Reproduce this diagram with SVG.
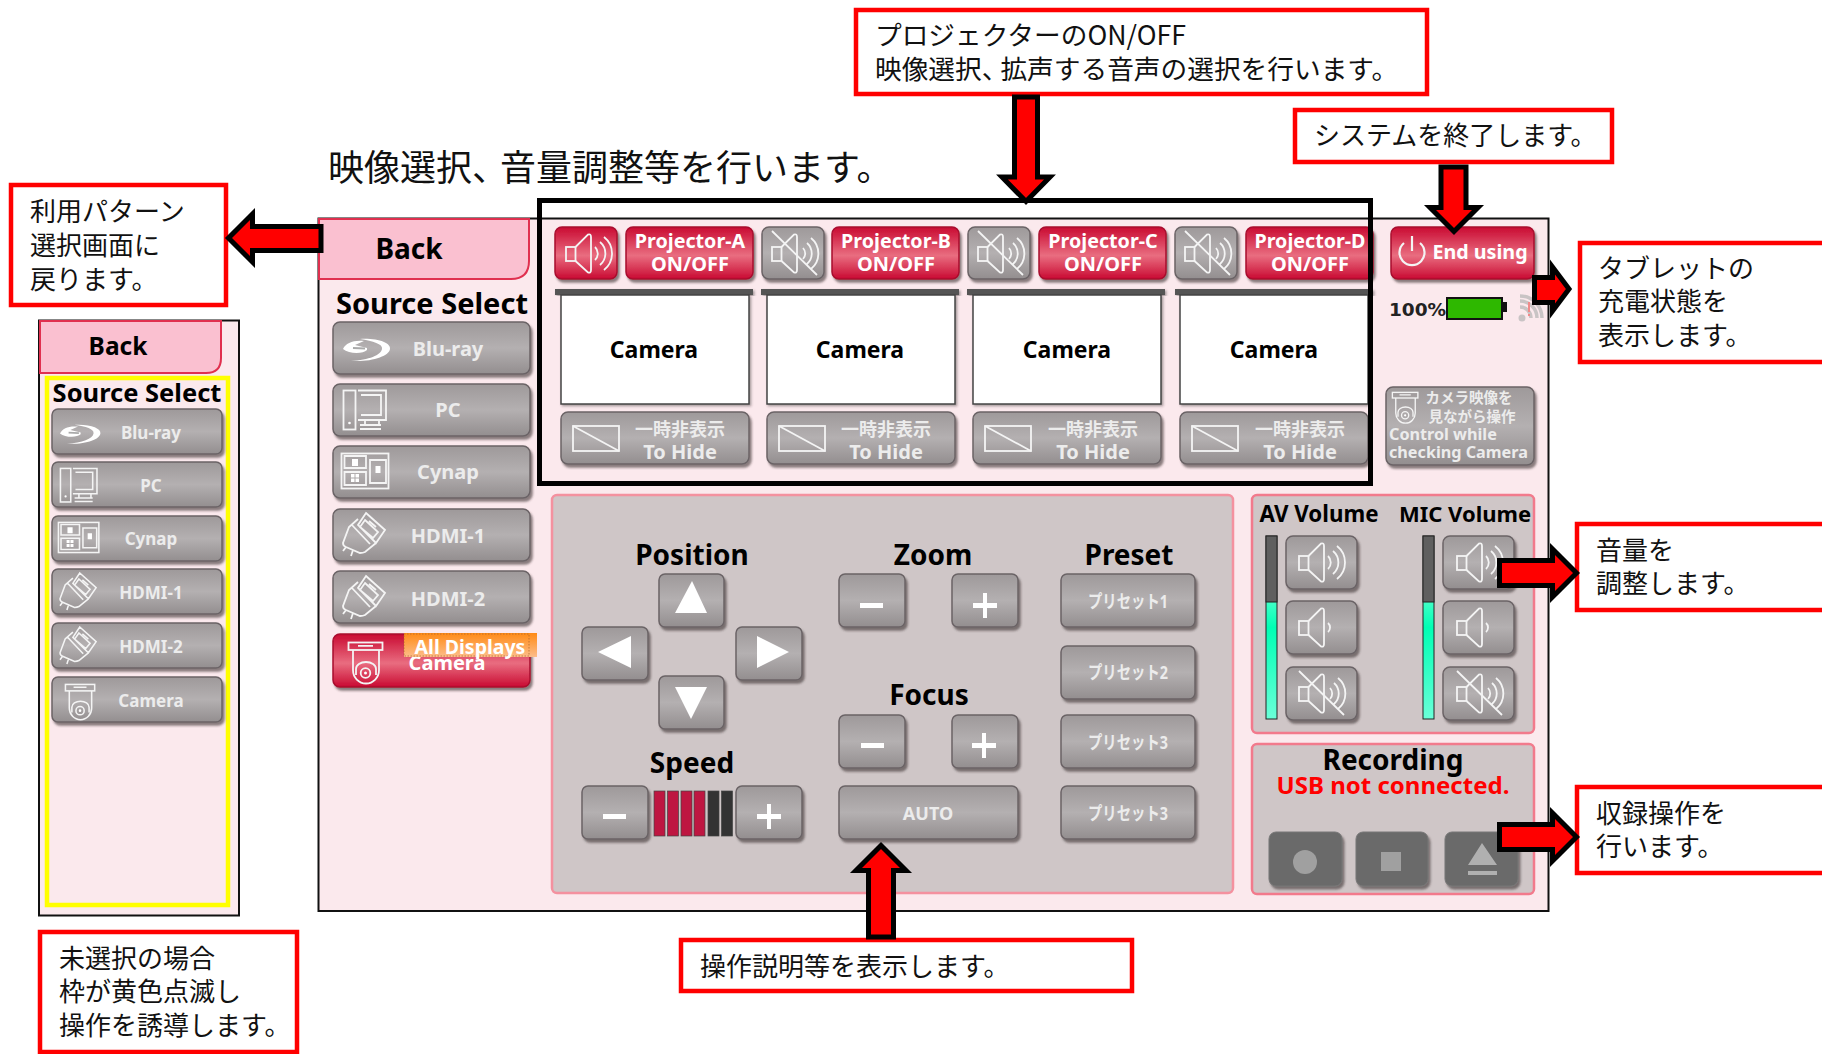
<svg xmlns="http://www.w3.org/2000/svg" width="1822" height="1054" viewBox="0 0 1822 1054">
<style>
text{font-family:"Noto Sans","Noto Sans CJK JP",sans-serif;font-weight:700}
.jp{font-family:"Noto Sans CJK JP",sans-serif;font-weight:400;fill:#111;font-size:26px}
.gb{fill:url(#gray);stroke:#6b6366;stroke-width:1.5;filter:url(#sh)}
.rb{fill:url(#red);stroke:#a80c2e;stroke-width:1.5;filter:url(#sh)}
.dk{fill:#6a6a6a;stroke:#777;stroke-width:1;filter:url(#sh)}
.wt{fill:#ececec;text-anchor:middle}
.wh{fill:#fff;text-anchor:middle}
.bk{fill:#000;text-anchor:middle}
.ic{fill:none;stroke:#f4f4f4;stroke-width:1.8}
.sel{fill:#fff}
.cb{fill:#fff;stroke:#f00;stroke-width:4.5}
.arr{fill:#f00;stroke:#000;stroke-width:5;stroke-linejoin:miter;stroke-miterlimit:8}
.pn{fill:#cfc6c7;stroke:#f27a8c;stroke-width:2.5}
.scr{fill:#fff;stroke:#444;stroke-width:1.5;filter:url(#sh2)}
.bar{fill:#555;filter:url(#sh2)}
.s17{font-size:17px}.s18{font-size:18px}.s20{font-size:20px}.s28{font-size:28px}
.gl{fill:#fff}
</style>
<defs>
<linearGradient id="gray" x1="0" y1="0" x2="0" y2="1"><stop offset="0" stop-color="#9e999a"/><stop offset=".5" stop-color="#b4b0b1"/><stop offset="1" stop-color="#938e8f"/></linearGradient>
<linearGradient id="red" x1="0" y1="0" x2="0" y2="1"><stop offset="0" stop-color="#c90a32"/><stop offset=".55" stop-color="#e96d80"/><stop offset="1" stop-color="#c90a32"/></linearGradient>
<linearGradient id="org" x1="0" y1="0" x2="0" y2="1"><stop offset="0" stop-color="#ff8a14"/><stop offset="1" stop-color="#fdbd8a"/></linearGradient>
<linearGradient id="mtr" x1="0" y1="0" x2="0" y2="1"><stop offset="0" stop-color="#e6fff7"/><stop offset=".5" stop-color="#00ffb4"/><stop offset="1" stop-color="#6affd8"/></linearGradient>
<filter id="sh" x="-10%" y="-10%" width="125%" height="130%"><feDropShadow dx="2" dy="3" stdDeviation="1.2" flood-color="#3c3033" flood-opacity=".6"/></filter>
<filter id="sh2" x="-5%" y="-5%" width="110%" height="115%"><feDropShadow dx="1.5" dy="1.5" stdDeviation="1.2" flood-color="#3c3033" flood-opacity=".45"/></filter>
<clipPath id="camclip"><rect x="333" y="657" width="210" height="40"/></clipPath>
<g id="spk"><rect x="0" y="13" width="9.500" height="14" class="ic"/><path class="ic" d="M9.500,13 L22,0.500 Q25,-0.500 25,3 V36 Q25,39.500 22,38.500 L9.500,27"/></g>
<g id="spk3"><use href="#spk"/><path class="ic" d="M29,13 A9,9 0 0 1 29,26 M34,8 A15,15 0 0 1 34,31 M38,3 A21,21 0 0 1 38,36"/></g>
<g id="spk1"><use href="#spk"/><path class="ic" d="M29,15 A6,6 0 0 1 29,24"/></g>
<g id="spkm"><use href="#spk"/><path class="ic" d="M31,14 A8,8 0 0 1 31,25 M35,9 A14,14 0 0 1 35,30 M39,4 A20,20 0 0 1 39,35 M0,-3 L45,41"/></g>
<g id="ibd"><path class="sel" d="M17,1 C35,0 48,5 47,11 C46,18 30,24 8,23 C26,22 38,17 39,11 C40,6 30,3 17,1 Z M0,11 C3,5 10,2 21,3 L12,7 L24,10 V12 C20,16 6,16 0,11 Z"/><path d="M10,10 L22,10.500" stroke="#aaa" stroke-width="2"/></g>
<g id="ipc"><rect class="ic" x="0.500" y="0.500" width="12" height="39"/><circle class="sel" cx="6.500" cy="33" r="1.300"/><path class="ic" d="M15,0.500 H43 V30 H15 M18,5 H38 V25 H18 M22,30 V34 M36,30 V34 M17,35 H38 M17,39 H38"/></g>
<g id="icy"><rect class="ic" x="0.500" y="0.500" width="47" height="35"/><path class="ic" d="M3.500,3 H25 V15 H3.500 Z M3.500,19 H25 V32 H3.500 Z M29,7 H45 V30 H29 Z"/><path class="sel" d="M11,6 h6 v7 h-6z M10,21 h3.500 v3.500 h-3.500z M14.500,21 h3.500 v3.500 h-3.500z M10,25.500 h3.500 v3.500 h-3.500z M14.500,25.500 h3.500 v3.500 h-3.500z M34.500,13 h5 v7 h-5z"/></g>
<g id="ihd"><path class="ic" d="M23,0 L42,17 L33,30 L15,12 Z M22,7 L35,19 L30,25 L17,14 Z M26,8 L33,14 M15,6 L6,14 L0,30 Q0,33 3,34 L17,40 Q20,40 22,39 L33,30 M8,11 L27,31 M3,34 L0,38 M10,37 L8,43"/></g>
<g id="icm"><rect class="ic" x="0.500" y="0.500" width="34" height="7.500"/><path class="ic" d="M5,8 V28 A13,13.500 0 0 0 31,28 V8 M8,33 V27 A10,7 0 0 1 28,27 V33 M10,3.800 H25"/><circle class="ic" cx="17.500" cy="31" r="4.800"/><circle class="sel" cx="17.500" cy="31" r="1.500"/></g>
<g id="hide"><rect class="ic" x="0" y="0" width="46" height="25"/><path class="ic" d="M0,0 L46,25"/></g>
</defs>
<rect width="1822" height="1054" fill="#fff"/>

<g id="title"><text class="jp" x="328" y="181" style="font-size:36px">映像選択<tspan>、</tspan><tspan dx="-8">音量調整等を行います。</tspan></text></g>

<g id="main-panel"><rect x="318.500" y="218.500" width="1230" height="692.500" fill="#fbe9ed" stroke="#111" stroke-width="2"/></g>

<g id="main-back"><path d="M319,219 H529 V261 Q529,279 511,279 H319 Z" fill="#fac0d0" stroke="#e0304f" stroke-width="2"/><text class="bk s28" x="409" y="259">Back</text></g>

<g id="main-source"><text class="bk" x="432" y="314" style="font-size:29px">Source Select</text>
<g id="m-bluray"><rect class="gb" x="333" y="322" width="197" height="52" rx="7"/><use href="#ibd" x="343" y="338"/><text class="wt s20" x="448" y="356">Blu-ray</text></g>
<g id="m-pc"><rect class="gb" x="333" y="384" width="197" height="52" rx="7"/><use href="#ipc" x="343" y="390"/><text class="wt s20" x="448" y="417">PC</text></g>
<g id="m-cynap"><rect class="gb" x="333" y="446" width="197" height="52" rx="7"/><use href="#icy" x="341" y="453"/><text class="wt s20" x="448" y="479">Cynap</text></g>
<g id="m-hdmi1"><rect class="gb" x="333" y="509" width="197" height="52" rx="7"/><use href="#ihd" x="343" y="513"/><text class="wt s20" x="448" y="543">HDMI-1</text></g>
<g id="m-hdmi2"><rect class="gb" x="333" y="571" width="197" height="52" rx="7"/><use href="#ihd" x="343" y="576"/><text class="wt s20" x="448" y="606">HDMI-2</text></g>
<g id="m-camera"><rect class="rb" x="333" y="634" width="197" height="53" rx="7"/><use href="#icm" x="348" y="642"/><text class="wh s20" x="447" y="670" clip-path="url(#camclip)">Camera</text>
<rect x="404" y="633" width="133" height="24" fill="url(#org)"/><rect x="404" y="634" width="125" height="22" fill="none" stroke="#a8642c" stroke-width=".7" stroke-dasharray="1.500 1.500"/><text class="wh" x="470" y="654" style="font-size:19.500px">All Displays</text></g>
</g>

<g id="sub-panel"><rect x="39" y="320.500" width="200" height="595" fill="#fbe9ed" stroke="#111" stroke-width="2"/>
<path d="M40,321 H221 V358 Q221,373 206,373 H40 Z" fill="#fac0d0" stroke="#e0304f" stroke-width="2"/><text class="bk" x="118" y="355" style="font-size:24.500px">Back</text>
<rect x="47" y="378" width="181" height="527" fill="none" stroke="#ff0" stroke-width="4.500"/>
<text class="bk" x="137" y="402" style="font-size:25.500px">Source Select</text>
<g id="s-bluray"><rect class="gb" x="52" y="409" width="170" height="45" rx="6"/><use href="#ibd" transform="translate(60 424) scale(.86)"/><text class="wt s17" x="151" y="439">Blu-ray</text></g>
<g id="s-pc"><rect class="gb" x="52" y="462" width="170" height="45" rx="6"/><use href="#ipc" transform="translate(60 468) scale(.86)"/><text class="wt s17" x="151" y="492">PC</text></g>
<g id="s-cynap"><rect class="gb" x="52" y="516" width="170" height="45" rx="6"/><use href="#icy" transform="translate(58 522) scale(.86)"/><text class="wt s17" x="151" y="545">Cynap</text></g>
<g id="s-hdmi1"><rect class="gb" x="52" y="569" width="170" height="45" rx="6"/><use href="#ihd" transform="translate(60 573) scale(.86)"/><text class="wt s17" x="151" y="599">HDMI-1</text></g>
<g id="s-hdmi2"><rect class="gb" x="52" y="623" width="170" height="45" rx="6"/><use href="#ihd" transform="translate(60 627) scale(.86)"/><text class="wt s17" x="151" y="653">HDMI-2</text></g>
<g id="s-camera"><rect class="gb" x="52" y="677" width="170" height="45" rx="6"/><use href="#icm" transform="translate(65 684) scale(.86)"/><text class="wt s17" x="151" y="707">Camera</text></g>
</g>

<g id="projector-a"><rect class="rb" x="555" y="227" width="62" height="52" rx="7"/><use href="#spk3" x="566" y="234"/><rect class="rb" x="626" y="227" width="127" height="52" rx="7"/><text class="wh" x="690" y="248" style="font-size:19.700px">Projector-A</text><text class="wh s20" x="690" y="271">ON/OFF</text>
<rect class="bar" x="555" y="289" width="198" height="6"/><rect class="scr" x="561" y="295" width="188" height="109"/><text class="bk" x="654" y="358" style="font-size:23px">Camera</text>
<rect class="gb" x="561" y="412" width="188" height="52" rx="7"/><use href="#hide" x="573" y="426"/><text class="wt s18" x="680" y="436">一時非表示</text><text class="wt s20" x="680" y="459">To Hide</text></g>

<g id="projector-b"><rect class="gb" x="762" y="227" width="62" height="52" rx="7"/><use href="#spkm" x="772" y="234"/><rect class="rb" x="832" y="227" width="127" height="52" rx="7"/><text class="wh" x="896" y="248" style="font-size:19.700px">Projector-B</text><text class="wh s20" x="896" y="271">ON/OFF</text>
<rect class="bar" x="761" y="289" width="198" height="6"/><rect class="scr" x="767" y="295" width="188" height="109"/><text class="bk" x="860" y="358" style="font-size:23px">Camera</text>
<rect class="gb" x="767" y="412" width="188" height="52" rx="7"/><use href="#hide" x="779" y="426"/><text class="wt s18" x="886" y="436">一時非表示</text><text class="wt s20" x="886" y="459">To Hide</text></g>

<g id="projector-c"><rect class="gb" x="968" y="227" width="62" height="52" rx="7"/><use href="#spkm" x="978" y="234"/><rect class="rb" x="1039" y="227" width="127" height="52" rx="7"/><text class="wh" x="1103" y="248" style="font-size:19.700px">Projector-C</text><text class="wh s20" x="1103" y="271">ON/OFF</text>
<rect class="bar" x="967" y="289" width="198" height="6"/><rect class="scr" x="973" y="295" width="188" height="109"/><text class="bk" x="1067" y="358" style="font-size:23px">Camera</text>
<rect class="gb" x="973" y="412" width="188" height="52" rx="7"/><use href="#hide" x="985" y="426"/><text class="wt s18" x="1093" y="436">一時非表示</text><text class="wt s20" x="1093" y="459">To Hide</text></g>

<g id="projector-d"><rect class="gb" x="1175" y="227" width="62" height="52" rx="7"/><use href="#spkm" x="1185" y="234"/><rect class="rb" x="1246" y="227" width="127" height="52" rx="7"/><text class="wh" x="1310" y="248" style="font-size:19.700px">Projector-D</text><text class="wh s20" x="1310" y="271">ON/OFF</text>
<rect class="bar" x="1175" y="289" width="198" height="6"/><rect class="scr" x="1180" y="295" width="188" height="109"/><text class="bk" x="1274" y="358" style="font-size:23px">Camera</text>
<rect class="gb" x="1180" y="412" width="188" height="52" rx="7"/><use href="#hide" x="1192" y="426"/><text class="wt s18" x="1300" y="436">一時非表示</text><text class="wt s20" x="1300" y="459">To Hide</text></g>

<g id="end-using"><rect class="rb" x="1391" y="227" width="143" height="52" rx="7"/><path d="M1404,243 A12.500,12.500 0 1 0 1420,243 M1412,236 V251" fill="none" stroke="#f4f4f4" stroke-width="2.200"/><text class="wh" x="1480" y="259" style="font-size:19.700px">End using</text></g>

<g id="battery"><text x="1389" y="316" fill="#222" style="font-family:'DejaVu Sans',sans-serif;font-size:18.500px">100%</text><rect x="1447" y="298" width="55" height="21" fill="#2eb800" stroke="#111" stroke-width="2"/><rect x="1503" y="302" width="4" height="10" fill="#111"/>
<g fill="none" stroke="#c9c4c5" stroke-width="3.500"><path d="M1520,307 A11,11 0 0 1 1531,318 M1520,301 A17,17 0 0 1 1537,318 M1520,296 A22,22 0 0 1 1542,318"/></g><circle cx="1522" cy="318" r="3.500" fill="#c9c4c5"/><rect x="1528" y="302" width="2" height="10" fill="#f08a8a"/><rect x="1528" y="314" width="2" height="2" fill="#f08a8a"/></g>

<g id="camera-control"><rect class="gb" x="1386" y="387" width="148" height="78" rx="7"/><use href="#icm" transform="translate(1392 392) scale(.75)"/><text class="wt" x="1469" y="403" style="font-size:14.500px">カメラ映像を</text><text class="wt" x="1472" y="422" style="font-size:14.500px">見ながら操作</text><text x="1389" y="440" fill="#ececec" style="font-size:16.200px">Control while</text><text x="1389" y="458" fill="#ececec" style="font-size:16.200px">checking Camera</text></g>

<g id="ptz-panel"><rect class="pn" x="552" y="495" width="681" height="398" rx="5" style="stroke:#f4919f"/>
<text class="bk s28" x="692" y="565">Position</text><text class="bk s28" x="933" y="565">Zoom</text><text class="bk s28" x="1129" y="565">Preset</text><text class="bk s28" x="929" y="705">Focus</text><text class="bk s28" x="692" y="773">Speed</text>
<g id="pos-up"><rect class="gb" x="659" y="574" width="65" height="53" rx="6"/><path class="gl" d="M692,581 L707,613 H675 Z"/></g>
<g id="pos-left"><rect class="gb" x="582" y="627" width="66" height="53" rx="6"/><path class="gl" d="M598,652 L631,636 V668 Z"/></g>
<g id="pos-right"><rect class="gb" x="736" y="627" width="66" height="53" rx="6"/><path class="gl" d="M789,652 L757,636 V668 Z"/></g>
<g id="pos-down"><rect class="gb" x="659" y="676" width="65" height="53" rx="6"/><path class="gl" d="M691,719 L707,687 H675 Z"/></g>
<g id="zoom-minus"><rect class="gb" x="839" y="574" width="66" height="53" rx="6"/><rect class="gl" x="860" y="603" width="23" height="5"/></g>
<g id="zoom-plus"><rect class="gb" x="952" y="574" width="66" height="53" rx="6"/><path class="gl" d="M973,603 h10 v-10 h4 v10 h10 v5 h-10 v10 h-4 v-10 h-10z"/></g>
<g id="focus-minus"><rect class="gb" x="839" y="715" width="66" height="53" rx="6"/><rect class="gl" x="861" y="743" width="23" height="5"/></g>
<g id="focus-plus"><rect class="gb" x="952" y="715" width="66" height="53" rx="6"/><path class="gl" d="M972,743 h10 v-10 h4 v10 h10 v5 h-10 v10 h-4 v-10 h-10z"/></g>
<g id="speed-minus"><rect class="gb" x="582" y="786" width="66" height="53" rx="6"/><rect class="gl" x="603" y="814" width="23" height="5"/></g>
<g id="speed-plus"><rect class="gb" x="736" y="786" width="66" height="53" rx="6"/><path class="gl" d="M757,814 h10 v-10 h4 v10 h10 v5 h-10 v10 h-4 v-10 h-10z"/></g>
<g id="speed-bars" stroke="#444" stroke-width=".7"><rect x="654" y="791" width="11" height="45" fill="#be1641"/><rect x="667.500" y="791" width="11" height="45" fill="#be1641"/><rect x="681" y="791" width="11" height="45" fill="#be1641"/><rect x="694" y="791" width="11" height="45" fill="#be1641"/><rect x="708" y="791" width="11" height="45" fill="#333"/><rect x="721.500" y="791" width="11" height="45" fill="#333"/></g>
<g id="auto"><rect class="gb" x="839" y="786" width="179" height="53" rx="6"/><text class="wt s18" x="928" y="820">AUTO</text></g>
<g id="preset1"><rect class="gb" x="1061" y="574" width="134" height="53" rx="6"/><text class="wt s18" x="1128" y="608" textLength="80" lengthAdjust="spacingAndGlyphs">プリセット1</text></g>
<g id="preset2"><rect class="gb" x="1061" y="646" width="134" height="53" rx="6"/><text class="wt s18" x="1128" y="679" textLength="80" lengthAdjust="spacingAndGlyphs">プリセット2</text></g>
<g id="preset3"><rect class="gb" x="1061" y="715" width="134" height="53" rx="6"/><text class="wt s18" x="1128" y="749" textLength="80" lengthAdjust="spacingAndGlyphs">プリセット3</text></g>
<g id="preset4"><rect class="gb" x="1061" y="786" width="134" height="53" rx="6"/><text class="wt s18" x="1128" y="820" textLength="80" lengthAdjust="spacingAndGlyphs">プリセット3</text></g>
</g>

<g id="volume-panel"><rect class="pn" x="1252" y="495" width="282" height="238" rx="5"/>
<text class="bk" x="1319" y="522" style="font-size:22.300px">AV Volume</text><text class="bk" x="1465" y="522" style="font-size:22px">MIC Volume</text>
<g id="meter-av"><rect x="1266" y="536" width="11" height="183" fill="url(#mtr)" stroke="#222" stroke-width="1"/><rect x="1266" y="536" width="11" height="66" fill="#5f5f5f" stroke="#222" stroke-width="1"/></g>
<g id="meter-mic"><rect x="1423" y="536" width="11" height="183" fill="url(#mtr)" stroke="#222" stroke-width="1"/><rect x="1423" y="536" width="11" height="66" fill="#5f5f5f" stroke="#222" stroke-width="1"/></g>
<g id="av-up"><rect class="gb" x="1286" y="536" width="71" height="53" rx="7"/><use href="#spk3" x="1299" y="543"/></g>
<g id="av-down"><rect class="gb" x="1286" y="601" width="71" height="53" rx="7"/><use href="#spk1" x="1299" y="608"/></g>
<g id="av-mute"><rect class="gb" x="1286" y="667" width="71" height="53" rx="7"/><use href="#spkm" x="1299" y="674"/></g>
<g id="mic-up"><rect class="gb" x="1443" y="536" width="71" height="53" rx="7"/><use href="#spk3" x="1457" y="543"/></g>
<g id="mic-down"><rect class="gb" x="1443" y="601" width="71" height="53" rx="7"/><use href="#spk1" x="1457" y="608"/></g>
<g id="mic-mute"><rect class="gb" x="1443" y="667" width="71" height="53" rx="7"/><use href="#spkm" x="1457" y="674"/></g>
</g>

<g id="recording-panel"><rect class="pn" x="1252" y="744" width="282" height="150" rx="5"/>
<text class="bk s28" x="1393" y="770">Recording</text><text x="1393" y="794" fill="#f00" text-anchor="middle" style="font-size:24px">USB not connected.</text>
<g id="rec"><rect class="dk" x="1269" y="832" width="73" height="54" rx="7"/><circle cx="1305" cy="862" r="12" fill="#a0a0a0"/></g>
<g id="stop"><rect class="dk" x="1356" y="832" width="72" height="54" rx="7"/><rect x="1381" y="852" width="20" height="19" fill="#a0a0a0"/></g>
<g id="eject"><rect class="dk" x="1445" y="832" width="73" height="54" rx="7"/><path d="M1482,843 L1497,865 H1468 Z M1468,871 H1497 V875 H1468 Z" fill="#b0b0b0"/></g>
</g>

<g id="highlight"><rect x="539.500" y="200.500" width="831" height="283" fill="none" stroke="#000" stroke-width="5"/></g>

<g id="callout-back"><rect class="cb" x="11" y="185" width="215" height="120"/><text class="jp" x="30" y="221">利用パターン</text><text class="jp" x="30" y="255">選択画面に</text><text class="jp" x="30" y="289">戻ります。</text></g>
<g id="callout-projector"><rect class="cb" x="856" y="10" width="571" height="84"/><text class="jp" x="875" y="45" style="font-size:26.700px">プロジェクターのON/OFF</text><text class="jp" x="875" y="79" style="font-size:26.700px">映像選択<tspan>、</tspan><tspan dx="-8">拡声する音声の選択を行います。</tspan></text></g>
<g id="callout-end"><rect class="cb" x="1295" y="110" width="317" height="52"/><text class="jp" x="1314" y="145">システムを終了します。</text></g>
<g id="callout-battery"><rect class="cb" x="1580" y="243" width="250" height="119"/><text class="jp" x="1598" y="278">タブレットの</text><text class="jp" x="1598" y="311">充電状態を</text><text class="jp" x="1598" y="345">表示します。</text></g>
<g id="callout-volume"><rect class="cb" x="1577" y="524" width="250" height="86"/><text class="jp" x="1596" y="560">音量を</text><text class="jp" x="1596" y="593">調整します。</text></g>
<g id="callout-recording"><rect class="cb" x="1577" y="787" width="250" height="86"/><text class="jp" x="1596" y="823">収録操作を</text><text class="jp" x="1596" y="856">行います。</text></g>
<g id="callout-ptz"><rect class="cb" x="681" y="940" width="451" height="51"/><text class="jp" x="700" y="976">操作説明等を表示します。</text></g>
<g id="callout-select"><rect class="cb" x="40" y="932" width="257" height="120"/><text class="jp" x="59" y="968">未選択の場合</text><text class="jp" x="59" y="1001">枠が黄色点滅し</text><text class="jp" x="59" y="1035">操作を誘導します。</text></g>

<g id="connectors">
<polygon class="arr" points="321,226.500 252.500,226.500 252.500,214 228.500,238 252.500,262 252.500,250.500 321,250.500"/>
<polygon class="arr" points="1014.500,97 1037.500,97 1037.500,177 1050,177 1026,201.500 1002,177 1014.500,177"/>
<polygon class="arr" points="1441,167 1466,167 1466,207.500 1478,207.500 1454,231.500 1430,207.500 1441,207.500"/>
<polygon class="arr" points="1534.500,277.500 1552.500,277.500 1552.500,267 1569,289 1552.500,311 1552.500,302.500 1534.500,302.500"/>
<polygon class="arr" points="1499.500,560.500 1552.500,560.500 1552.500,549 1576.500,573 1552.500,597 1552.500,585.500 1499.500,585.500"/>
<polygon class="arr" points="1499.500,824.500 1552.500,824.500 1552.500,813 1576.500,837 1552.500,861 1552.500,849.500 1499.500,849.500"/>
<polygon class="arr" points="868.500,937 893.500,937 893.500,870.500 906,870.500 881,845.500 856,870.500 868.500,870.500"/>
</g>
</svg>
